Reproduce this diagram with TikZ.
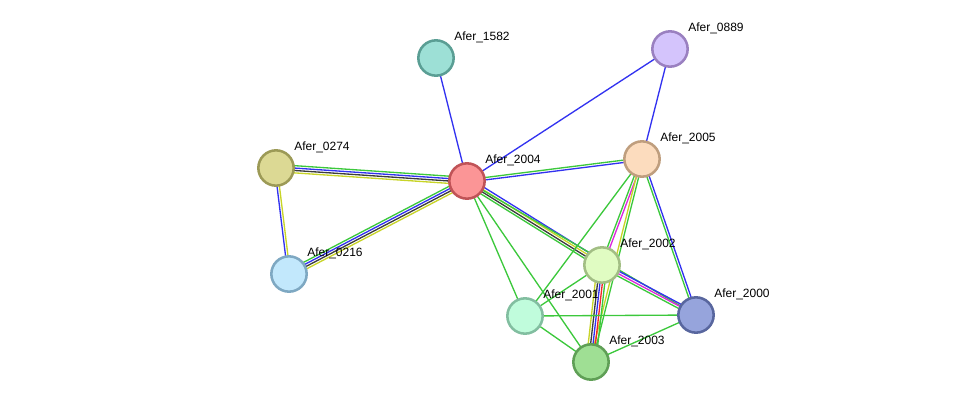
\documentclass[tikz,border=0pt]{standalone}
\usepackage{fontspec}
\setmainfont{Liberation Sans}
\usetikzlibrary{calc,backgrounds}

% Edge colours
\definecolor{cgreen}{RGB}{60,200,60}
\definecolor{cblue}{RGB}{50,50,240}
\definecolor{cblack}{RGB}{60,60,60}
\definecolor{cyellow}{RGB}{200,212,40}
\definecolor{cmagenta}{RGB}{220,40,220}
\definecolor{cred}{RGB}{240,40,40}

% Protein colours (fill / border)
\definecolor{f1582}{RGB}{157,224,214} \definecolor{b1582}{RGB}{90,158,148}
\definecolor{f0889}{RGB}{212,196,252} \definecolor{b0889}{RGB}{154,128,192}
\definecolor{f0274}{RGB}{220,217,148} \definecolor{b0274}{RGB}{156,154,86}
\definecolor{f2004}{RGB}{251,149,150} \definecolor{b2004}{RGB}{192,83,87}
\definecolor{f2005}{RGB}{252,220,190} \definecolor{b2005}{RGB}{191,158,126}
\definecolor{f0216}{RGB}{194,232,252} \definecolor{b0216}{RGB}{126,168,194}
\definecolor{f2002}{RGB}{224,252,194} \definecolor{b2002}{RGB}{162,190,132}
\definecolor{f2001}{RGB}{192,252,220} \definecolor{b2001}{RGB}{130,190,160}
\definecolor{f2000}{RGB}{150,164,220} \definecolor{b2000}{RGB}{88,102,158}
\definecolor{f2003}{RGB}{159,223,148} \definecolor{b2003}{RGB}{95,159,86}

\tikzset{
  prot/.style={circle, draw=b#1, fill=f#1, line width=1.9pt, minimum size=26.5pt, inner sep=0pt},
  lbl/.style={anchor=west, inner sep=0pt, font=\fontsize{9}{10}\selectfont},
  ln/.style={line width=1pt}
}

\begin{document}
\begin{tikzpicture}[x=0.75pt, y=-0.75pt]
\useasboundingbox (0,0) rectangle (976,407);

% Proteins
\foreach \n/\x/\y in {1582/436/58, 0889/670/49, 0274/276/168, 2004/467/181,
    2005/642/159, 0216/289/274, 2002/602/265, 2001/525/316, 2000/696/315, 2003/591/362}
  \node[prot=\n] (n\n) at (\x,\y) {};

% Labels
\foreach \n in {1582,0889,0274,2004,2005,0216,2002,2001,2000,2003}
  \node[lbl] (t\n) at ($(n\n.center)+(18,-21)$) {Afer\_\n};

% Interactions (offset = shift of each parallel line)
\begin{scope}[on background layer]
\foreach \a/\b/\o/\c in {
    1582/2004/0/cblue, 0889/2004/0/cblue, 0889/2005/0/cblue,
    0274/2004/2.7/cgreen, 0274/2004/0.9/cblue, 0274/2004/-0.9/cblack, 0274/2004/-2.7/cyellow,
    0274/0216/-0.9/cblue, 0274/0216/0.9/cyellow,
    0216/2004/2.7/cgreen, 0216/2004/0.9/cblue, 0216/2004/-0.9/cblack, 0216/2004/-2.7/cyellow,
    2004/2005/0.9/cgreen, 2004/2005/-0.9/cblue,
    2004/2002/2.7/cblue, 2004/2002/0.9/cyellow, 2004/2002/-0.9/cblack, 2004/2002/-2.7/cgreen,
    2004/2000/0/cgreen, 2004/2001/0/cgreen, 2004/2003/0/cgreen,
    2005/2001/0/cgreen,
    2005/2002/-0.9/cgreen, 2005/2002/0.9/cmagenta,
    2005/2003/-0.9/cyellow, 2005/2003/0.9/cgreen,
    2005/2000/-0.9/cgreen, 2005/2000/0.9/cblue,
    2002/2000/1.8/cblue, 2002/2000/0/cmagenta, 2002/2000/-1.8/cgreen,
    2002/2001/0/cgreen,
    2002/2003/-3.6/cyellow, 2002/2003/-1.8/cblack, 2002/2003/0/cblue, 2002/2003/1.8/cred, 2002/2003/3.6/cgreen,
    2001/2000/0/cgreen, 2001/2003/0/cgreen, 2003/2000/0/cgreen}
  \draw[ln, \c] ($(n\a.center)!\o pt!90:(n\b.center)$) -- ($(n\b.center)!\o pt!-90:(n\a.center)$);
\end{scope}

\end{tikzpicture}
\end{document}
